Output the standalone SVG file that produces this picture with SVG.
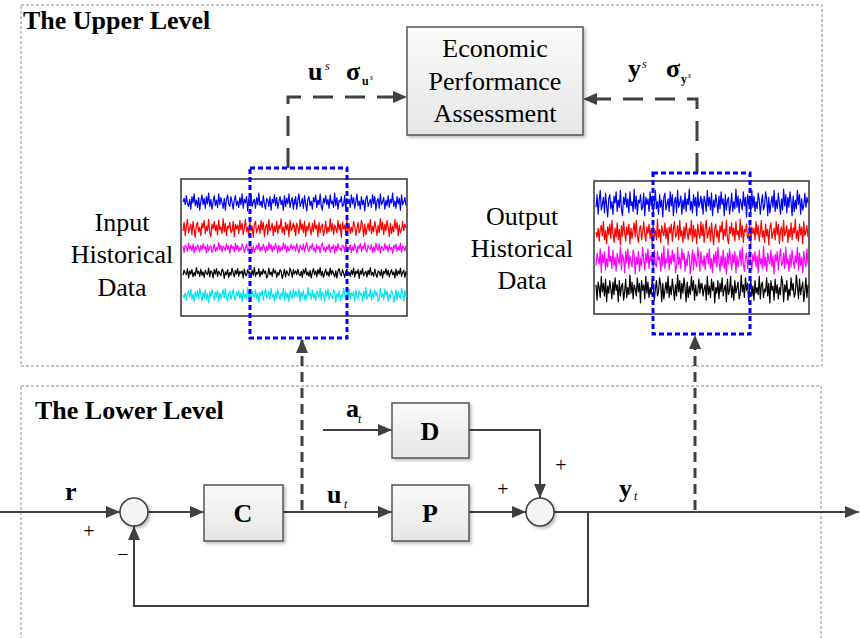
<svg xmlns="http://www.w3.org/2000/svg" xmlns:xlink="http://www.w3.org/1999/xlink" width="860" height="638" viewBox="0 0 860 638">
<style>
.frame{fill:none;stroke:#8a8a8a;stroke-width:1;stroke-dasharray:3 2}
.title{font-family:"Liberation Serif","Times New Roman",serif;font-weight:bold;font-size:26px;fill:#000}
.txt{font-family:"Liberation Serif","Times New Roman",serif;font-size:26px;fill:#000;text-anchor:middle}
.blk{fill:url(#g);stroke:#555;stroke-width:1.5;filter:url(#sh)}
.blkt{font-family:"Liberation Serif","Times New Roman",serif;font-weight:bold;font-size:26px;fill:#000;text-anchor:middle}
.lbl{font-family:"Liberation Serif","Times New Roman",serif;font-weight:bold;font-size:26px;fill:#000}
.sup{font-family:"Liberation Serif","Times New Roman",serif;font-style:italic;font-size:12px;fill:#000}
.sub{font-family:"Liberation Serif","Times New Roman",serif;font-weight:bold;font-size:12px;fill:#000}
.sup2{font-family:"Liberation Serif","Times New Roman",serif;font-style:italic;font-size:8px;fill:#000}
.pm{font-family:"Liberation Serif","Times New Roman",serif;font-size:20px;fill:#000;text-anchor:middle}
.wire{fill:none;stroke:#404040;stroke-width:2}
.dash{fill:none;stroke:#404040;stroke-width:3}
.chart{fill:#fff;stroke:#333;stroke-width:1.5}
.sel{fill:none;stroke:#0000ff;stroke-width:3;stroke-dasharray:5 3}
.sig{fill:none;stroke-width:1.2;stroke-linejoin:round}
.sum{fill:#f4f4f4;stroke:#404040;stroke-width:1.5;filter:url(#sh)}
</style>
<defs>
<linearGradient id="g" x1="0" y1="0" x2="0" y2="1"><stop offset="0" stop-color="#fafafa"/><stop offset="1" stop-color="#e6e6e6"/></linearGradient>
<filter id="sh" x="-20%" y="-20%" width="140%" height="140%"><feDropShadow dx="2" dy="2" stdDeviation="1.5" flood-color="#000" flood-opacity="0.25"/></filter>
<marker id="ar" viewBox="0 0 14 12" refX="14" refY="6" markerWidth="14" markerHeight="12" markerUnits="userSpaceOnUse" orient="auto"><path d="M0,0 L14,6 L0,12 Z" fill="#404040"/></marker>
<polyline id="nA" vector-effect="non-scaling-stroke" points="0,0 2,-4 4,3 6,-7 8,2 10,5 12,-3 14,8 16,-6 18,1 20,-9 22,4 24,-2 26,6 28,-5 30,9 32,-1 34,-8 36,3 38,-4 40,7 42,-6 44,2 46,-10 48,5 50,-3 52,8 54,0 56,-7 58,4 60,-2 62,6 64,-9 66,3 68,-5 70,1 72,7 74,-4 76,9 78,-3 80,-8 82,2 84,5 86,-6 88,0 90,8 92,-2 94,-7 96,4 98,-1 100,6 102,-5 104,3 106,-9 108,7 110,-3 112,1 114,-6 116,10 118,-4 120,2 122,-8 124,5 126,0 128,-3 130,7 132,-5 134,3 136,-10 138,4 140,-1 142,6 144,-7 146,2 148,8 150,-4 152,-2 154,5 156,-6 158,9 160,-3 162,1 164,-8 166,4 168,-5 170,7 172,0 174,-6 176,3 178,-2 180,9 182,-7 184,5 186,-4 188,2 190,-9 192,6 194,-1 196,-5 198,8 200,-3"/>
<polyline id="nB" vector-effect="non-scaling-stroke" points="0,3 2,-6 4,8 6,-2 8,-9 10,5 12,1 14,-4 16,7 18,-7 20,2 22,10 24,-3 26,-6 28,4 30,-1 32,8 34,-5 36,0 38,-8 40,6 42,-2 44,3 46,-9 48,5 50,9 52,-4 54,1 56,-7 58,3 60,-3 62,7 64,-8 66,2 68,-1 70,6 72,-10 74,4 76,-5 78,8 80,-2 82,0 84,-6 86,5 88,3 90,-7 92,9 94,-4 96,1 98,-3 100,6 102,-8 104,2 106,-5 108,7 110,0 112,-9 114,4 116,-1 118,8 120,-6 122,3 124,-2 126,10 128,-4 130,-7 132,5 134,1 136,-3 138,6 140,-8 142,2 144,-6 146,9 148,-1 150,-4 152,7 154,-9 156,3 158,0 160,-5 162,8 164,-2 166,4 168,-7 170,6 172,-3 174,1 176,-10 178,5 180,-1 182,7 184,-6 186,2 188,-4 190,9 192,-8 194,3 196,0 198,-5 200,4"/>
</defs>
<rect width="860" height="638" fill="#fff"/>

<g id="upper-level">
<rect class="frame" x="21" y="5" width="801" height="361"/>
<text class="title" x="23" y="29">The Upper Level</text>
</g>
<g id="lower-level">
<rect class="frame" x="21" y="386" width="800" height="262"/>
<text class="title" x="35" y="419">The Lower Level</text>
</g>

<g id="connectors">
<path class="dash" stroke-dasharray="20 12" d="M288,168 V97 H407" marker-end="url(#ar)"/>
<path class="dash" stroke-dasharray="20 12" d="M697,173 V99 H583" marker-end="url(#ar)"/>
<path class="dash" stroke-dasharray="10 6" d="M302,510 V339" marker-end="url(#ar)"/>
<path class="dash" stroke-dasharray="10 6" d="M695,510 V335" marker-end="url(#ar)"/>
<path class="wire" d="M0,512 H120" marker-end="url(#ar)"/>
<path class="wire" d="M148,512 H204" marker-end="url(#ar)"/>
<path class="wire" d="M283,512 H392" marker-end="url(#ar)"/>
<path class="wire" d="M323,430 H392" marker-end="url(#ar)"/>
<path class="wire" d="M469,430 H540 V498" marker-end="url(#ar)"/>
<path class="wire" d="M469,512 H526" marker-end="url(#ar)"/>
<path class="wire" d="M554,512 H859" marker-end="url(#ar)"/>
<path class="wire" d="M588,512 V606 H134 V526" marker-end="url(#ar)"/>
</g>

<g id="economic">
<rect class="blk" x="407" y="27" width="176" height="108"/>
<text class="txt" x="495" y="57">Economic</text>
<text class="txt" x="495" y="90">Performance</text>
<text class="txt" x="495" y="122">Assessment</text>
</g>

<g id="input-data">
<rect class="chart" x="181" y="179" width="226" height="137"/>
<use href="#nA" class="sig" stroke="#0000ff" transform="translate(183,202) scale(0.5575,0.9)"/>
<use href="#nB" class="sig" stroke="#0000ff" transform="translate(294.5,202) scale(0.5575,0.9)"/>
<use href="#nB" class="sig" stroke="#ff0000" transform="translate(183,228) scale(0.5575,0.95)"/>
<use href="#nA" class="sig" stroke="#ff0000" transform="translate(406,228) scale(-0.5575,0.95)"/>
<use href="#nA" class="sig" stroke="#ff00ff" transform="translate(294.5,248) scale(-0.5575,0.55)"/>
<use href="#nB" class="sig" stroke="#ff00ff" transform="translate(294.5,248) scale(0.5575,-0.55)"/>
<use href="#nB" class="sig" stroke="#000000" transform="translate(294.5,273) scale(-0.5575,0.55)"/>
<use href="#nA" class="sig" stroke="#000000" transform="translate(294.5,273) scale(0.5575,0.55)"/>
<use href="#nA" class="sig" stroke="#00e5ee" transform="translate(183,295) scale(0.5575,-0.75)"/>
<use href="#nB" class="sig" stroke="#00e5ee" transform="translate(406,295) scale(-0.5575,0.75)"/>
<rect class="sel" x="250" y="168" width="97" height="170"/>
<text class="txt" x="122" y="231">Input</text>
<text class="txt" x="122" y="263">Historical</text>
<text class="txt" x="122" y="296">Data</text>
</g>

<g id="output-data">
<rect class="chart" x="594" y="181" width="215" height="133"/>
<use href="#nB" class="sig" stroke="#0000ff" transform="translate(596,203) scale(0.53,1.4)"/>
<use href="#nA" class="sig" stroke="#0000ff" transform="translate(808,203) scale(-0.53,1.4)"/>
<use href="#nA" class="sig" stroke="#ff0000" transform="translate(596,232) scale(0.53,-1.3)"/>
<use href="#nB" class="sig" stroke="#ff0000" transform="translate(702,232) scale(0.53,1.3)"/>
<use href="#nB" class="sig" stroke="#ff00ff" transform="translate(702,260) scale(-0.53,1.4)"/>
<use href="#nA" class="sig" stroke="#ff00ff" transform="translate(702,260) scale(0.53,-1.4)"/>
<use href="#nA" class="sig" stroke="#000000" transform="translate(702,289) scale(-0.53,1.4)"/>
<use href="#nB" class="sig" stroke="#000000" transform="translate(808,289) scale(-0.53,-1.4)"/>
<rect class="sel" x="653" y="173" width="97" height="161"/>
<text class="txt" x="522" y="225">Output</text>
<text class="txt" x="522" y="257">Historical</text>
<text class="txt" x="522" y="289">Data</text>
</g>

<g id="labels">
<text class="lbl" x="308" y="80">u</text><text class="sup" x="325" y="70">s</text>
<text class="lbl" x="346" y="80">σ</text><text class="sub" x="362" y="85">u</text><text class="sup2" x="370" y="80">s</text>
<text class="lbl" x="628" y="77">y</text><text class="sup" x="642" y="68">s</text>
<text class="lbl" x="666" y="77">σ</text><text class="sub" x="681" y="83">y</text><text class="sup2" x="688" y="78">s</text>
<text class="lbl" x="65" y="500">r</text>
<text class="lbl" x="327" y="503">u</text><text class="sup" x="344" y="508">t</text>
<text class="lbl" x="346" y="417">a</text><text class="sup" x="358" y="423">t</text>
<text class="lbl" x="619" y="497">y</text><text class="sup" x="634" y="500">t</text>
<text class="pm" x="89" y="538">+</text>
<text class="pm" x="123" y="561">−</text>
<text class="pm" x="503" y="496">+</text>
<text class="pm" x="561" y="472">+</text>
</g>

<g id="sum1"><circle class="sum" cx="134" cy="512" r="14"/></g>
<g id="sum2"><circle class="sum" cx="540" cy="512" r="14"/></g>
<g id="block-C"><rect class="blk" x="204" y="485" width="79" height="56"/><text class="blkt" x="243" y="522">C</text></g>
<g id="block-D"><rect class="blk" x="392" y="403" width="77" height="55"/><text class="blkt" x="430" y="440">D</text></g>
<g id="block-P"><rect class="blk" x="392" y="485" width="77" height="56"/><text class="blkt" x="430" y="522">P</text></g>
</svg>
